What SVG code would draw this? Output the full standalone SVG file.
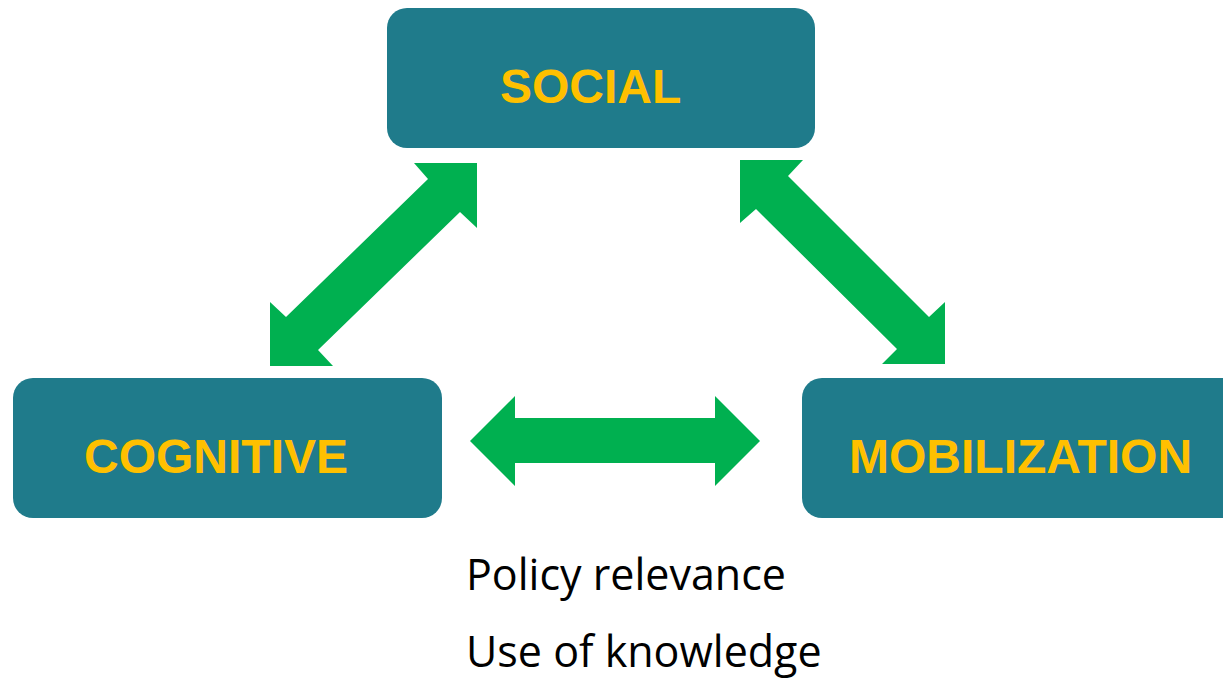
<svg xmlns="http://www.w3.org/2000/svg" width="1223" height="678" viewBox="0 0 1223 678">
<style>
.box{fill:#1F7B8B;}
.lbl{font-family:"Liberation Sans",Arial,sans-serif;font-weight:bold;font-size:48px;fill:#FFC000;}
.arr{fill:#00B050;}
.note{font-family:"Open Sans","Noto Sans",sans-serif;font-size:43px;fill:#000;}
</style>
<rect width="1223" height="678" fill="#fff"/>
<g id="connectors">
<polygon class="arr" points="414,163 477,163 477,228 460,212 318,350 333,366 270,366 270,302 286,317 428,179"/>
<polygon class="arr" points="740,160 803,160 788,176 929,317 945,302 945,364 882,364 897,349 756,209 740,223"/>
<polygon class="arr" points="470,441 515,396 515,418 715,418 715,396 760,441 715,486 715,463 515,463 515,486"/>
</g>
<g id="social">
<rect class="box" x="387" y="8" width="428" height="140" rx="20"/>
<text class="lbl" x="500" y="103">SOCIAL</text>
</g>
<g id="cognitive">
<rect class="box" x="13" y="378" width="429" height="140" rx="20"/>
<text class="lbl" x="84" y="473">COGNITIVE</text>
</g>
<g id="mobilization">
<rect class="box" x="802" y="378" width="440" height="140" rx="20"/>
<text class="lbl" x="849" y="473">MOBILIZATION</text>
</g>
<g id="notes">
<text class="note" x="466" y="590">Policy relevance</text>
<text class="note" x="466" y="667">Use of knowledge</text>
</g>
</svg>
